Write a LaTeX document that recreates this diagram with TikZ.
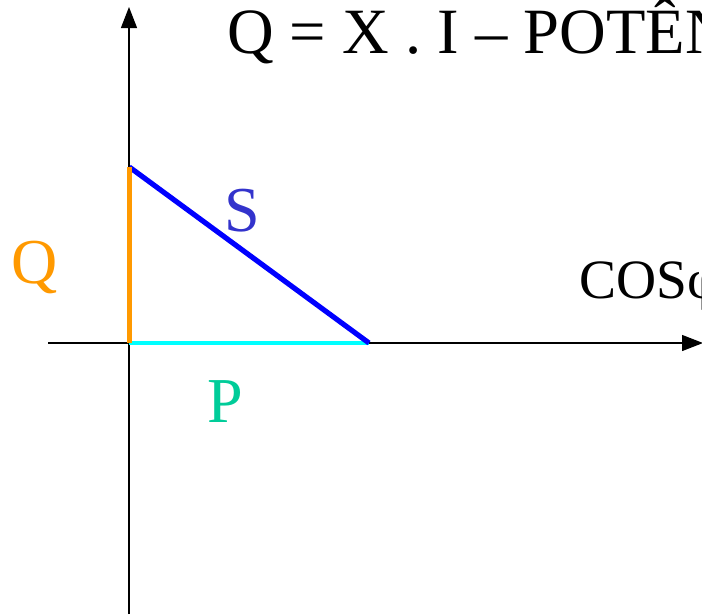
\documentclass[tikz,border=0pt]{standalone}
\usepackage{fontspec}
\setmainfont{Liberation Serif}
\usetikzlibrary{arrows.meta}
\definecolor{qorange}{HTML}{FF9900}
\definecolor{sblue}{HTML}{3333CC}
\definecolor{pgreen}{HTML}{00CC99}
\definecolor{lblue}{HTML}{0000FF}
\definecolor{lcyan}{HTML}{00FFFF}
\begin{document}
\begin{tikzpicture}[x=1pt,y=-1pt,
  axis/.style={line width=1.3pt,-{Triangle[length=21pt,width=16pt]}},
  side/.style={line width=4.7pt},
  lbl/.style={anchor=base west,inner sep=0pt,font=\fontsize{64}{70}\selectfont}]
\useasboundingbox (0,0) rectangle (702,614);
\coordinate (yb) at (129,614);
\coordinate (yt) at (129,7);
\coordinate (xl) at (48,343);
\coordinate (xr) at (703,343);
\coordinate (O) at (129.3,343);
\coordinate (A) at (129.3,167);
\coordinate (B) at (369,343);
\draw[axis] (yb) -- (yt);
\draw[axis] (xl) -- (xr);
\draw[side,lcyan] (O) -- (B);
\draw[side,lblue,line width=5.2pt] (A) -- (B);
\draw[side,qorange] (O) -- (A);
\node[lbl,font=\fontsize{64.6}{70}\selectfont] (title) at (227,53) {Q = X . I – POTÊNCIA REATIVA};
\node[lbl,font=\fontsize{55.5}{62}\selectfont] (cos) at (579,298) {COSφ};
\node[lbl,text=qorange] (ql) at (11,283) {Q};
\node[lbl,text=sblue] (sl) at (224,231) {S};
\node[lbl,text=pgreen] (pl) at (207,422) {P};
\end{tikzpicture}
\end{document}
